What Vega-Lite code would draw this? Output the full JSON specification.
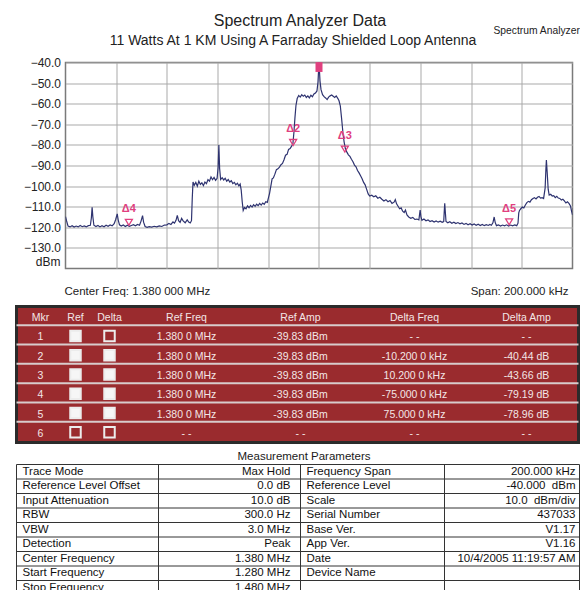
{
  "$schema": "https://vega.github.io/schema/vega-lite/v6.json",
  "padding": {"left": 13.5, "top": 11.5, "right": 0, "bottom": 0},
  "background": "white",
  "spacing": 6,
  "config": {"font": "Liberation Sans", "view": {"stroke": null}},
  "datasets": {
    "trace": [
      {"f":1.2800,"a":-114.8},{"f":1.2804,"a":-116.8},{"f":1.2810,"a":-119.4},{"f":1.2818,"a":-119.8},{"f":1.2826,"a":-119.2},{"f":1.2834,"a":-119.9},{"f":1.2842,"a":-119.4},{"f":1.2850,"a":-119.8},{"f":1.2858,"a":-119.1},{"f":1.2866,"a":-119.7},{"f":1.2874,"a":-119.3},{"f":1.2882,"a":-119.8},{"f":1.2890,"a":-119.2},{"f":1.2898,"a":-119.0},{"f":1.2902,"a":-115.5},{"f":1.2905,"a":-110.3},{"f":1.2908,"a":-115.0},{"f":1.2912,"a":-119.0},{"f":1.2920,"a":-119.6},{"f":1.2928,"a":-119.1},{"f":1.2936,"a":-119.8},{"f":1.2944,"a":-119.2},{"f":1.2952,"a":-119.7},{"f":1.2960,"a":-119.0},{"f":1.2968,"a":-119.5},{"f":1.2976,"a":-118.9},{"f":1.2984,"a":-119.3},{"f":1.2992,"a":-118.2},{"f":1.2998,"a":-116.2},{"f":1.3004,"a":-113.5},{"f":1.3008,"a":-116.5},{"f":1.3013,"a":-118.8},{"f":1.3020,"a":-119.4},{"f":1.3028,"a":-118.9},{"f":1.3036,"a":-119.6},{"f":1.3044,"a":-119.0},{"f":1.3052,"a":-119.5},{"f":1.3060,"a":-119.1},{"f":1.3068,"a":-118.7},{"f":1.3076,"a":-119.3},{"f":1.3084,"a":-118.6},{"f":1.3092,"a":-119.0},{"f":1.3098,"a":-117.0},{"f":1.3104,"a":-114.3},{"f":1.3108,"a":-117.5},{"f":1.3114,"a":-119.6},{"f":1.3122,"a":-120.0},{"f":1.3130,"a":-119.7},{"f":1.3140,"a":-119.9},{"f":1.3150,"a":-119.5},{"f":1.3160,"a":-119.8},{"f":1.3170,"a":-119.3},{"f":1.3180,"a":-119.6},{"f":1.3190,"a":-118.9},{"f":1.3200,"a":-118.8},{"f":1.3208,"a":-118.1},{"f":1.3216,"a":-118.6},{"f":1.3224,"a":-117.4},{"f":1.3230,"a":-118.0},{"f":1.3236,"a":-116.6},{"f":1.3241,"a":-114.2},{"f":1.3246,"a":-116.8},{"f":1.3252,"a":-117.6},{"f":1.3258,"a":-115.7},{"f":1.3264,"a":-116.9},{"f":1.3272,"a":-117.8},{"f":1.3280,"a":-116.4},{"f":1.3286,"a":-117.5},{"f":1.3292,"a":-117.9},{"f":1.3297,"a":-116.8},
      {"f":1.3300,"a":-106.0},{"f":1.3303,"a":-98.0},{"f":1.3308,"a":-99.6},{"f":1.3314,"a":-98.2},{"f":1.3320,"a":-100.0},{"f":1.3326,"a":-97.6},{"f":1.3332,"a":-99.2},{"f":1.3338,"a":-98.4},{"f":1.3344,"a":-99.8},{"f":1.3350,"a":-98.0},{"f":1.3356,"a":-98.8},{"f":1.3362,"a":-96.8},{"f":1.3368,"a":-97.6},{"f":1.3374,"a":-95.6},{"f":1.3380,"a":-96.9},{"f":1.3386,"a":-95.8},{"f":1.3392,"a":-97.2},{"f":1.3398,"a":-96.2},{"f":1.3402,"a":-91.0},{"f":1.3405,"a":-80.1},{"f":1.3408,"a":-91.5},{"f":1.3412,"a":-96.8},{"f":1.3418,"a":-95.9},{"f":1.3424,"a":-97.0},{"f":1.3430,"a":-96.2},{"f":1.3436,"a":-97.6},{"f":1.3442,"a":-96.8},{"f":1.3448,"a":-98.0},{"f":1.3454,"a":-97.4},{"f":1.3460,"a":-98.8},{"f":1.3466,"a":-98.2},{"f":1.3472,"a":-99.4},{"f":1.3478,"a":-98.6},{"f":1.3484,"a":-99.9},{"f":1.3489,"a":-99.0},{"f":1.3493,"a":-101.8},{"f":1.3497,"a":-107.5},{"f":1.3501,"a":-111.8},{"f":1.3506,"a":-110.4},{"f":1.3512,"a":-111.0},{"f":1.3518,"a":-109.6},{"f":1.3524,"a":-110.5},{"f":1.3530,"a":-109.4},{"f":1.3536,"a":-110.2},{"f":1.3542,"a":-109.0},{"f":1.3548,"a":-109.8},{"f":1.3554,"a":-108.8},{"f":1.3560,"a":-109.5},{"f":1.3566,"a":-108.4},{"f":1.3572,"a":-109.2},{"f":1.3578,"a":-108.2},{"f":1.3584,"a":-108.8},{"f":1.3590,"a":-107.6},{"f":1.3596,"a":-107.9},{"f":1.3600,"a":-106.0},{"f":1.3605,"a":-103.5},{"f":1.3610,"a":-100.0},{"f":1.3615,"a":-96.5},{"f":1.3620,"a":-96.0},{"f":1.3626,"a":-94.2},{"f":1.3632,"a":-92.0},{"f":1.3638,"a":-91.6},{"f":1.3644,"a":-90.8},{"f":1.3650,"a":-89.6},{"f":1.3656,"a":-89.0},{"f":1.3662,"a":-87.2},{"f":1.3668,"a":-85.0},{"f":1.3674,"a":-84.6},{"f":1.3680,"a":-82.2},{"f":1.3686,"a":-81.8},{"f":1.3692,"a":-80.6},{"f":1.3697,"a":-79.5},{"f":1.3701,"a":-74.0},{"f":1.3705,"a":-67.0},{"f":1.3709,"a":-61.0},{"f":1.3714,"a":-57.5},{"f":1.3720,"a":-56.0},{"f":1.3726,"a":-56.8},{"f":1.3732,"a":-55.6},{"f":1.3738,"a":-56.4},{"f":1.3744,"a":-55.8},{"f":1.3750,"a":-57.0},{"f":1.3756,"a":-56.2},{"f":1.3762,"a":-57.2},{"f":1.3768,"a":-55.9},{"f":1.3774,"a":-56.6},{"f":1.3780,"a":-55.3},{"f":1.3786,"a":-54.8},{"f":1.3792,"a":-53.8},{"f":1.3796,"a":-49.5},{"f":1.3800,"a":-39.9},{"f":1.3804,"a":-49.0},{"f":1.3808,"a":-53.2},{"f":1.3814,"a":-55.6},{"f":1.3820,"a":-56.6},{"f":1.3826,"a":-57.2},{"f":1.3832,"a":-58.0},{"f":1.3838,"a":-56.8},{"f":1.3844,"a":-56.2},{"f":1.3850,"a":-55.8},{"f":1.3856,"a":-56.4},{"f":1.3862,"a":-57.0},{"f":1.3868,"a":-56.2},{"f":1.3874,"a":-57.4},{"f":1.3879,"a":-58.6},{"f":1.3884,"a":-61.0},{"f":1.3889,"a":-67.0},{"f":1.3894,"a":-73.5},{"f":1.3899,"a":-78.5},{"f":1.3904,"a":-81.8},{"f":1.3910,"a":-83.5},{"f":1.3916,"a":-84.8},{"f":1.3922,"a":-85.6},{"f":1.3928,"a":-87.0},{"f":1.3934,"a":-88.2},{"f":1.3940,"a":-89.8},{"f":1.3946,"a":-90.6},{"f":1.3952,"a":-92.4},{"f":1.3958,"a":-93.6},{"f":1.3964,"a":-95.0},{"f":1.3970,"a":-96.4},{"f":1.3976,"a":-98.2},{"f":1.3982,"a":-99.4},{"f":1.3988,"a":-101.6},{"f":1.3994,"a":-103.8},
      {"f":1.4000,"a":-104.8},{"f":1.4008,"a":-104.4},{"f":1.4016,"a":-105.2},{"f":1.4024,"a":-104.7},{"f":1.4032,"a":-105.9},{"f":1.4040,"a":-105.4},{"f":1.4048,"a":-106.4},{"f":1.4056,"a":-107.2},{"f":1.4064,"a":-106.6},{"f":1.4072,"a":-107.6},{"f":1.4080,"a":-107.0},{"f":1.4088,"a":-108.4},{"f":1.4096,"a":-107.8},{"f":1.4101,"a":-106.6},{"f":1.4106,"a":-108.6},{"f":1.4112,"a":-109.8},{"f":1.4118,"a":-111.0},{"f":1.4124,"a":-110.6},{"f":1.4130,"a":-112.2},{"f":1.4136,"a":-112.8},{"f":1.4141,"a":-111.6},{"f":1.4147,"a":-114.0},{"f":1.4154,"a":-115.0},{"f":1.4162,"a":-115.6},{"f":1.4170,"a":-115.2},{"f":1.4178,"a":-116.2},{"f":1.4186,"a":-116.0},{"f":1.4194,"a":-116.4},{"f":1.4197,"a":-113.5},{"f":1.4199,"a":-111.6},{"f":1.4202,"a":-114.8},{"f":1.4206,"a":-116.6},{"f":1.4214,"a":-116.0},{"f":1.4222,"a":-116.8},{"f":1.4230,"a":-116.4},{"f":1.4238,"a":-117.2},{"f":1.4246,"a":-116.8},{"f":1.4254,"a":-117.4},{"f":1.4262,"a":-116.9},{"f":1.4270,"a":-117.5},{"f":1.4278,"a":-117.0},{"f":1.4286,"a":-117.6},{"f":1.4292,"a":-117.2},{"f":1.4294,"a":-112.5},{"f":1.4296,"a":-108.3},{"f":1.4298,"a":-112.0},{"f":1.4301,"a":-117.2},{"f":1.4308,"a":-117.8},{"f":1.4316,"a":-117.3},{"f":1.4324,"a":-118.0},{"f":1.4332,"a":-117.5},{"f":1.4340,"a":-118.2},{"f":1.4348,"a":-117.7},{"f":1.4356,"a":-118.3},{"f":1.4364,"a":-117.9},{"f":1.4372,"a":-118.6},{"f":1.4380,"a":-118.1},{"f":1.4388,"a":-118.8},{"f":1.4396,"a":-118.3},{"f":1.4404,"a":-118.9},{"f":1.4412,"a":-118.4},{"f":1.4420,"a":-119.0},{"f":1.4428,"a":-118.5},{"f":1.4436,"a":-119.1},{"f":1.4444,"a":-118.6},{"f":1.4452,"a":-119.2},{"f":1.4460,"a":-118.7},{"f":1.4468,"a":-119.1},{"f":1.4474,"a":-118.6},{"f":1.4480,"a":-119.0},{"f":1.4486,"a":-117.8},{"f":1.4491,"a":-115.0},{"f":1.4495,"a":-117.6},{"f":1.4500,"a":-119.2},{"f":1.4508,"a":-118.8},{"f":1.4516,"a":-119.4},{"f":1.4524,"a":-118.9},{"f":1.4532,"a":-119.3},{"f":1.4540,"a":-118.8},{"f":1.4548,"a":-119.4},{"f":1.4556,"a":-118.9},{"f":1.4564,"a":-119.3},{"f":1.4572,"a":-118.8},{"f":1.4580,"a":-119.2},{"f":1.4585,"a":-118.0},{"f":1.4588,"a":-113.0},{"f":1.4591,"a":-111.8},{"f":1.4596,"a":-111.0},{"f":1.4602,"a":-110.2},{"f":1.4608,"a":-110.6},{"f":1.4614,"a":-109.2},{"f":1.4620,"a":-108.0},{"f":1.4626,"a":-107.4},{"f":1.4632,"a":-107.8},{"f":1.4638,"a":-106.6},{"f":1.4644,"a":-106.0},{"f":1.4650,"a":-105.6},{"f":1.4656,"a":-106.2},{"f":1.4662,"a":-105.4},{"f":1.4668,"a":-105.0},{"f":1.4674,"a":-105.8},{"f":1.4680,"a":-105.6},{"f":1.4686,"a":-106.0},{"f":1.4692,"a":-101.0},{"f":1.4695,"a":-92.0},{"f":1.4697,"a":-87.3},{"f":1.4700,"a":-93.0},{"f":1.4704,"a":-101.5},{"f":1.4708,"a":-104.4},{"f":1.4714,"a":-104.0},{"f":1.4720,"a":-104.8},{"f":1.4726,"a":-104.6},{"f":1.4732,"a":-105.6},{"f":1.4738,"a":-105.0},{"f":1.4744,"a":-105.8},{"f":1.4750,"a":-106.0},{"f":1.4756,"a":-106.8},{"f":1.4762,"a":-106.4},{"f":1.4768,"a":-107.2},{"f":1.4774,"a":-108.2},{"f":1.4780,"a":-107.6},{"f":1.4786,"a":-108.4},{"f":1.4792,"a":-109.6},{"f":1.4796,"a":-112.0},{"f":1.4800,"a":-114.0}
    ],
    "markers": [
      {"m":"1","f":1.3800,"a":-39.83},
      {"m":"Δ2","f":1.3698,"a":-80.27},
      {"m":"Δ3","f":1.3902,"a":-83.49},
      {"m":"Δ4","f":1.3050,"a":-119.02},
      {"m":"Δ5","f":1.4550,"a":-118.79}
    ],
    "notes": [
      {"id":"title","text":"Spectrum Analyzer Data"},
      {"id":"subtitle","text":"11 Watts At 1 KM Using A Farraday Shielded Loop Antenna"},
      {"id":"center","text":"Center Freq: 1.380 000 MHz"},
      {"id":"span","text":"Span: 200.000 kHz"},
      {"id":"unit","text":"dBm"},
      {"id":"brand","text":"Spectrum Analyzer"}
    ],
    "mkrTable": [
      {"row":"Mkr","mkr":"Mkr","ref":"Ref","delta":"Delta","refFreq":"Ref Freq","refAmp":"Ref Amp","deltaFreq":"Delta Freq","deltaAmp":"Delta Amp"},
      {"row":"1","mkr":"1","refOn":true,"deltaOn":false,"refFreq":"1.380 0 MHz","refAmp":"-39.83 dBm","deltaFreq":"- -","deltaAmp":"- -"},
      {"row":"2","mkr":"2","refOn":true,"deltaOn":true,"refFreq":"1.380 0 MHz","refAmp":"-39.83 dBm","deltaFreq":"-10.200 0 kHz","deltaAmp":"-40.44 dB"},
      {"row":"3","mkr":"3","refOn":true,"deltaOn":true,"refFreq":"1.380 0 MHz","refAmp":"-39.83 dBm","deltaFreq":"10.200 0 kHz","deltaAmp":"-43.66 dB"},
      {"row":"4","mkr":"4","refOn":true,"deltaOn":true,"refFreq":"1.380 0 MHz","refAmp":"-39.83 dBm","deltaFreq":"-75.000 0 kHz","deltaAmp":"-79.19 dB"},
      {"row":"5","mkr":"5","refOn":true,"deltaOn":true,"refFreq":"1.380 0 MHz","refAmp":"-39.83 dBm","deltaFreq":"75.000 0 kHz","deltaAmp":"-78.96 dB"},
      {"row":"6","mkr":"6","refOn":false,"deltaOn":false,"refFreq":"- -","refAmp":"- -","deltaFreq":"- -","deltaAmp":"- -"}
    ],
    "params": [
      {"label1":"Trace Mode","value1":"Max Hold","label2":"Frequency Span","value2":"200.000 kHz"},
      {"label1":"Reference Level Offset","value1":"0.0 dB","label2":"Reference Level","value2":"-40.000\u00a0 dBm"},
      {"label1":"Input Attenuation","value1":"10.0 dB","label2":"Scale","value2":"10.0\u00a0 dBm/div"},
      {"label1":"RBW","value1":"300.0 Hz","label2":"Serial Number","value2":"437033"},
      {"label1":"VBW","value1":"3.0 MHz","label2":"Base Ver.","value2":"V1.17"},
      {"label1":"Detection","value1":"Peak","label2":"App Ver.","value2":"V1.16"},
      {"label1":"Center Frequency","value1":"1.380 MHz","label2":"Date","value2":"10/4/2005 11:19:57 AM"},
      {"label1":"Start Frequency","value1":"1.280 MHz","label2":"Device Name","value2":""},
      {"label1":"Stop Frequency","value1":"1.480 MHz","label2":"","value2":""}
    ]
  },
  "vconcat": [
    {
      "spacing": 0,
      "hconcat": [
        {
          "width": 1,
          "height": 1,
          "data": {"values": [{}]},
          "mark": {"type": "text", "text": "", "opacity": 0}
        },
        {
          "width": 507,
          "height": 206,
          "view": {"stroke": "#7a7a7a", "strokeWidth": 1.5},
          "layer": [
            {
              "data": {"name": "trace"},
              "mark": {"type": "line", "color": "#2e3370", "strokeWidth": 1.2, "clip": true},
              "encoding": {
                "x": {"field": "f", "type": "quantitative",
                  "scale": {"domain": [1.28, 1.48], "nice": false, "zero": false},
                  "axis": {"grid": true, "values": [1.30, 1.32, 1.34, 1.36, 1.38, 1.40, 1.42, 1.44, 1.46], "tickCount": 20, "labels": false, "ticks": false, "domain": false, "title": null, "gridColor": "#a9a9a9", "gridWidth": 1}},
                "y": {"field": "a", "type": "quantitative",
                  "scale": {"domain": [-140, -40], "nice": false, "zero": false},
                  "axis": {"grid": true, "values": [-40, -50, -60, -70, -80, -90, -100, -110, -120, -130], "tickCount": 20, "format": ".1f", "ticks": false, "domain": false, "labelPadding": 5, "labelFontSize": 12, "labelColor": "#222", "labelOverlap": false, "labelBound": false, "labelFlush": false, "title": null, "minExtent": 47, "gridColor": "#a9a9a9", "gridWidth": 1}}
              }
            },
            {
              "data": {"name": "markers"},
              "transform": [{"filter": "datum.m !== '1'"}],
              "mark": {"type": "point", "shape": "M-1,-1.7L1,-1.7L0,0Z", "filled": false, "stroke": "#e0407f", "strokeWidth": 1.3, "size": 49, "opacity": 1},
              "encoding": {"x": {"field": "f", "type": "quantitative"}, "y": {"field": "a", "type": "quantitative"}}
            },
            {
              "data": {"name": "markers"},
              "transform": [{"filter": "datum.m === '1'"}],
              "mark": {"type": "point", "shape": "M-1,0L1,0L1,2.8L-1,2.8Z", "filled": true, "fill": "#e0407f", "size": 49, "opacity": 1},
              "encoding": {"x": {"field": "f", "type": "quantitative"}, "y": {"field": "a", "type": "quantitative"}}
            },
            {
              "data": {"name": "markers"},
              "transform": [{"filter": "datum.m !== '1'"}],
              "mark": {"type": "text", "color": "#e0407f", "fontSize": 11, "fontWeight": "bold", "dy": -16, "baseline": "middle"},
              "encoding": {"x": {"field": "f", "type": "quantitative"}, "y": {"field": "a", "type": "quantitative"}, "text": {"field": "m"}}
            },
            {
              "data": {"name": "notes"},
              "transform": [{"filter": "datum.id === 'title'"}],
              "mark": {"type": "text", "align": "center", "baseline": "middle", "dx": -19, "dy": -42, "fontSize": 16, "color": "#222"},
              "encoding": {"x": {"datum": 1.38, "type": "quantitative"}, "y": {"datum": -40, "type": "quantitative"}, "text": {"field": "text"}}
            },
            {
              "data": {"name": "notes"},
              "transform": [{"filter": "datum.id === 'subtitle'"}],
              "mark": {"type": "text", "align": "center", "baseline": "middle", "dx": -26, "dy": -21.5, "fontSize": 14, "color": "#222"},
              "encoding": {"x": {"datum": 1.38, "type": "quantitative"}, "y": {"datum": -40, "type": "quantitative"}, "text": {"field": "text"}}
            },
            {
              "data": {"name": "notes"},
              "transform": [{"filter": "datum.id === 'center'"}],
              "mark": {"type": "text", "align": "left", "baseline": "middle", "dx": -1, "dy": 23.5, "fontSize": 11.5, "color": "#222"},
              "encoding": {"x": {"datum": 1.28, "type": "quantitative"}, "y": {"datum": -140, "type": "quantitative"}, "text": {"field": "text"}}
            },
            {
              "data": {"name": "notes"},
              "transform": [{"filter": "datum.id === 'span'"}],
              "mark": {"type": "text", "align": "right", "baseline": "middle", "dx": -4, "dy": 23.5, "fontSize": 11.5, "color": "#222"},
              "encoding": {"x": {"datum": 1.48, "type": "quantitative"}, "y": {"datum": -140, "type": "quantitative"}, "text": {"field": "text"}}
            },
            {
              "data": {"name": "notes"},
              "transform": [{"filter": "datum.id === 'unit'"}],
              "mark": {"type": "text", "align": "right", "baseline": "middle", "dx": -5, "dy": -6.5, "fontSize": 12, "color": "#222"},
              "encoding": {"x": {"datum": 1.28, "type": "quantitative"}, "y": {"datum": -140, "type": "quantitative"}, "text": {"field": "text"}}
            },
            {
              "data": {"name": "notes"},
              "transform": [{"filter": "datum.id === 'brand'"}],
              "mark": {"type": "text", "align": "left", "baseline": "middle", "dx": -79, "dy": -31.5, "fontSize": 10.3, "color": "#222", "limit": 87, "ellipsis": " "},
              "encoding": {"x": {"datum": 1.48, "type": "quantitative"}, "y": {"datum": -40, "type": "quantitative"}, "text": {"field": "text"}}
            }
          ]
        }
      ]
    },
    {
      "width": 562,
      "height": 136,
      "view": {"fill": "#9a2b2e", "stroke": "#2b2b2b", "strokeWidth": 3},
      "data": {"name": "mkrTable"},
      "encoding": {
        "y": {"field": "row", "type": "nominal", "scale": {"domain": ["Mkr", "1", "2", "3", "4", "5", "6"], "range": [0.5, 135.5], "paddingInner": 0, "paddingOuter": 0}, "axis": null}
      },
      "layer": [
        {
          "transform": [{"filter": "datum.row !== 'Mkr'"}],
          "mark": {"type": "rule", "color": "#d8cccc", "strokeWidth": 2, "yOffset": -1},
          "encoding": {"y": {"field": "row", "type": "nominal", "bandPosition": 0, "scale": {"domain": ["Mkr", "1", "2", "3", "4", "5", "6"], "range": [0.5, 135.5], "paddingInner": 0, "paddingOuter": 0}, "axis": null}}
        },
        {
          "mark": {"type": "text", "color": "#f3e6e6", "fontSize": 10.5, "dy": 1.5},
          "encoding": {"x": {"datum": 0, "type": "quantitative", "scale": {"domain": [0, 1, 2, 3, 4, 5, 6], "range": [24, 59, 93, 170, 284, 398, 510], "nice": false, "zero": false}, "axis": null}, "text": {"field": "mkr"}}
        },
        {
          "transform": [{"filter": "datum.row === 'Mkr'"}],
          "mark": {"type": "text", "color": "#f3e6e6", "fontSize": 10.5, "dy": 1.5},
          "encoding": {"x": {"datum": 1, "type": "quantitative"}, "text": {"field": "ref"}}
        },
        {
          "transform": [{"filter": "datum.row === 'Mkr'"}],
          "mark": {"type": "text", "color": "#f3e6e6", "fontSize": 10.5, "dy": 1.5},
          "encoding": {"x": {"datum": 2, "type": "quantitative"}, "text": {"field": "delta"}}
        },
        {
          "mark": {"type": "text", "color": "#f3e6e6", "fontSize": 10.5, "dy": 1.5},
          "encoding": {"x": {"datum": 3, "type": "quantitative"}, "text": {"field": "refFreq"}}
        },
        {
          "mark": {"type": "text", "color": "#f3e6e6", "fontSize": 10.5, "dy": 1.5},
          "encoding": {"x": {"datum": 4, "type": "quantitative"}, "text": {"field": "refAmp"}}
        },
        {
          "mark": {"type": "text", "color": "#f3e6e6", "fontSize": 10.5, "dy": 1.5},
          "encoding": {"x": {"datum": 5, "type": "quantitative"}, "text": {"field": "deltaFreq"}}
        },
        {
          "mark": {"type": "text", "color": "#f3e6e6", "fontSize": 10.5, "dy": 1.5},
          "encoding": {"x": {"datum": 6, "type": "quantitative"}, "text": {"field": "deltaAmp"}}
        },
        {
          "transform": [{"filter": "datum.row !== 'Mkr'"}],
          "mark": {"type": "point", "shape": "square", "size": 110, "strokeWidth": 2, "stroke": "#ececec", "opacity": 1, "filled": true},
          "encoding": {"x": {"datum": 1, "type": "quantitative"},
            "fill": {"condition": {"test": "datum.refOn", "value": "#f6f6f6"}, "value": "#9a2b2e"}}
        },
        {
          "transform": [{"filter": "datum.row !== 'Mkr'"}],
          "mark": {"type": "point", "shape": "square", "size": 110, "strokeWidth": 2, "stroke": "#ececec", "opacity": 1, "filled": true},
          "encoding": {"x": {"datum": 2, "type": "quantitative"},
            "fill": {"condition": {"test": "datum.deltaOn", "value": "#f6f6f6"}, "value": "#9a2b2e"}}
        }
      ]
    },
    {
      "width": 563,
      "height": 127,
      "title": {"text": "Measurement Parameters", "fontSize": 11.5, "fontWeight": "normal", "color": "#1a1a1a", "anchor": "middle", "offset": 2, "dx": 6},
      "layer": [
        {
          "data": {"name": "params"},
          "mark": {"type": "rule", "color": "#333", "strokeWidth": 1},
          "encoding": {"y": {"field": "label1", "type": "nominal", "sort": null, "bandPosition": 0, "scale": {"range": [0, 130.5], "paddingInner": 0, "paddingOuter": 0}, "axis": null}}
        },
        {"data": {"values": [{}]}, "mark": {"type": "rule", "color": "#333", "strokeWidth": 1}, "encoding": {"x": {"datum": 0, "type": "quantitative", "scale": {"domain": [0, 1, 2, 3, 4], "range": [0, 142, 284, 428, 563], "nice": false, "zero": false}, "axis": null}}},
        {"data": {"values": [{}]}, "mark": {"type": "rule", "color": "#333", "strokeWidth": 1}, "encoding": {"x": {"datum": 1, "type": "quantitative"}}},
        {"data": {"values": [{}]}, "mark": {"type": "rule", "color": "#333", "strokeWidth": 1}, "encoding": {"x": {"datum": 2, "type": "quantitative"}}},
        {"data": {"values": [{}]}, "mark": {"type": "rule", "color": "#333", "strokeWidth": 1}, "encoding": {"x": {"datum": 3, "type": "quantitative"}}},
        {"data": {"values": [{}]}, "mark": {"type": "rule", "color": "#333", "strokeWidth": 1}, "encoding": {"x": {"datum": 4, "type": "quantitative"}}},
        {
          "data": {"name": "params"},
          "mark": {"type": "text", "align": "left", "baseline": "middle", "dx": 6, "fontSize": 11.5, "color": "#111", "clip": true},
          "encoding": {"x": {"datum": 0, "type": "quantitative"}, "y": {"field": "label1", "type": "nominal", "sort": null, "axis": null}, "text": {"field": "label1"}}
        },
        {
          "data": {"name": "params"},
          "mark": {"type": "text", "align": "right", "baseline": "middle", "dx": -10, "fontSize": 11.5, "color": "#111", "clip": true},
          "encoding": {"x": {"datum": 2, "type": "quantitative"}, "y": {"field": "label1", "type": "nominal", "sort": null, "axis": null}, "text": {"field": "value1"}}
        },
        {
          "data": {"name": "params"},
          "mark": {"type": "text", "align": "left", "baseline": "middle", "dx": 6, "fontSize": 11.5, "color": "#111", "clip": true},
          "encoding": {"x": {"datum": 2, "type": "quantitative"}, "y": {"field": "label1", "type": "nominal", "sort": null, "axis": null}, "text": {"field": "label2"}}
        },
        {
          "data": {"name": "params"},
          "mark": {"type": "text", "align": "right", "baseline": "middle", "dx": -4, "fontSize": 11.5, "color": "#111", "clip": true},
          "encoding": {"x": {"datum": 4, "type": "quantitative"}, "y": {"field": "label1", "type": "nominal", "sort": null, "axis": null}, "text": {"field": "value2"}}
        }
      ]
    }
  ]
}
